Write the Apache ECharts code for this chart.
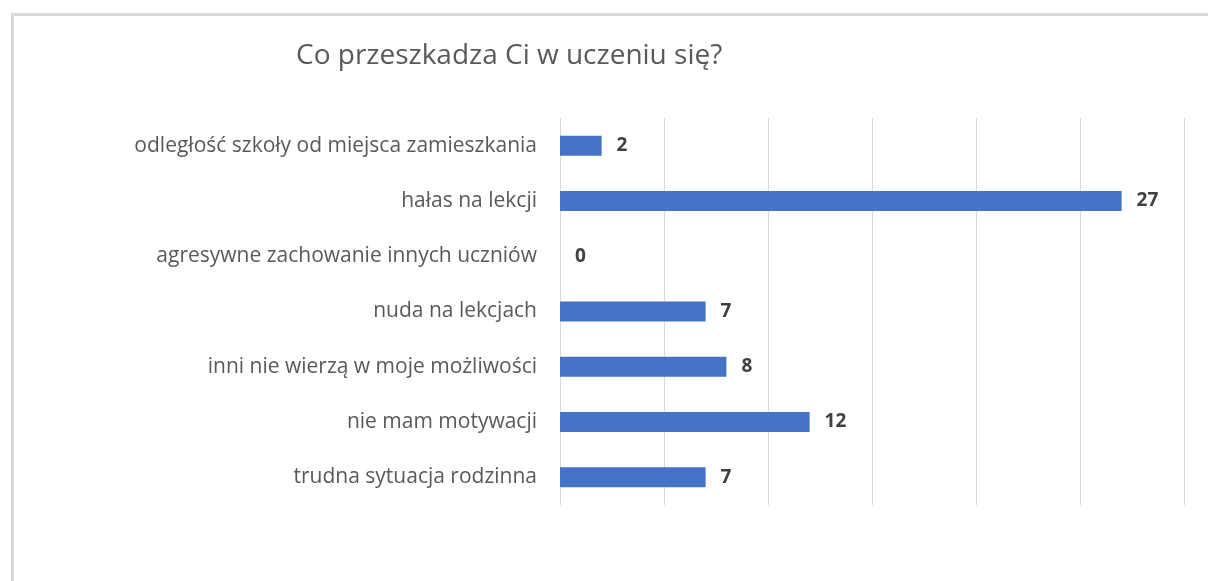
<!DOCTYPE html>
<html>
<head>
<meta charset="utf-8">
<script src="https://cdn.jsdelivr.net/npm/echarts@6/dist/echarts.min.js"></script>
<style>
html, body { margin: 0; padding: 0; background: #fff; }
#chart { width: 1208px; height: 581px; }
</style>
</head>
<body>
<div id="chart"></div>
<script>
// kategorie od dołu do góry (oś y w echarts rośnie w górę)
var categories = [
    'trudna sytuacja rodzinna',
    'nie mam motywacji',
    'inni nie wierzą w moje możliwości',
    'nuda na lekcjach',
    'agresywne zachowanie innych uczniów',
    'hałas na lekcji',
    'odległość szkoły od miejsca zamieszkania'
];
var values = [7, 12, 8, 7, 0, 27, 2];
var chartTitle = 'Co przeszkadza Ci w uczeniu się?';

var myChart = echarts.init(document.getElementById('chart'));
var option = {
    backgroundColor: '#ffffff',
    animation: false,
    graphic: [{
        type: 'rect',
        left: 10,
        top: 12,
        shape: { width: 1400, height: 800 },
        style: { fill: 'none', stroke: '#d9d9d9', lineWidth: 3 },
        silent: true
    }],
    title: {
        text: chartTitle,
        left: 291,
        top: 37,
        textStyle: {
            fontFamily: 'Open Sans',
            fontSize: 28,
            fontWeight: 'normal',
            color: '#595959'
        }
    },
    grid: {
        left: 560,
        right: 24,
        top: 118,
        bottom: 76
    },
    xAxis: {
        type: 'value',
        min: 0,
        max: 30,
        interval: 5,
        axisLabel: { show: false },
        axisLine: { show: false },
        axisTick: { show: false },
        splitLine: {
            show: true,
            lineStyle: { color: '#d9d9d9', width: 1 }
        }
    },
    yAxis: {
        type: 'category',
        data: categories,
        axisLine: { show: false },
        axisTick: { show: false },
        axisLabel: {
            margin: 23,
            fontFamily: 'Open Sans',
            fontSize: 21,
            color: '#595959'
        }
    },
    series: [{
        type: 'bar',
        data: values,
        barWidth: 20,
        itemStyle: { color: '#4472c4' },
        label: {
            show: true,
            position: 'right',
            distance: 15,
            fontFamily: 'Open Sans',
            fontSize: 19,
            fontWeight: 'bold',
            color: '#404040'
        }
    }]
};
myChart.setOption(option);
</script>
</body>
</html>
